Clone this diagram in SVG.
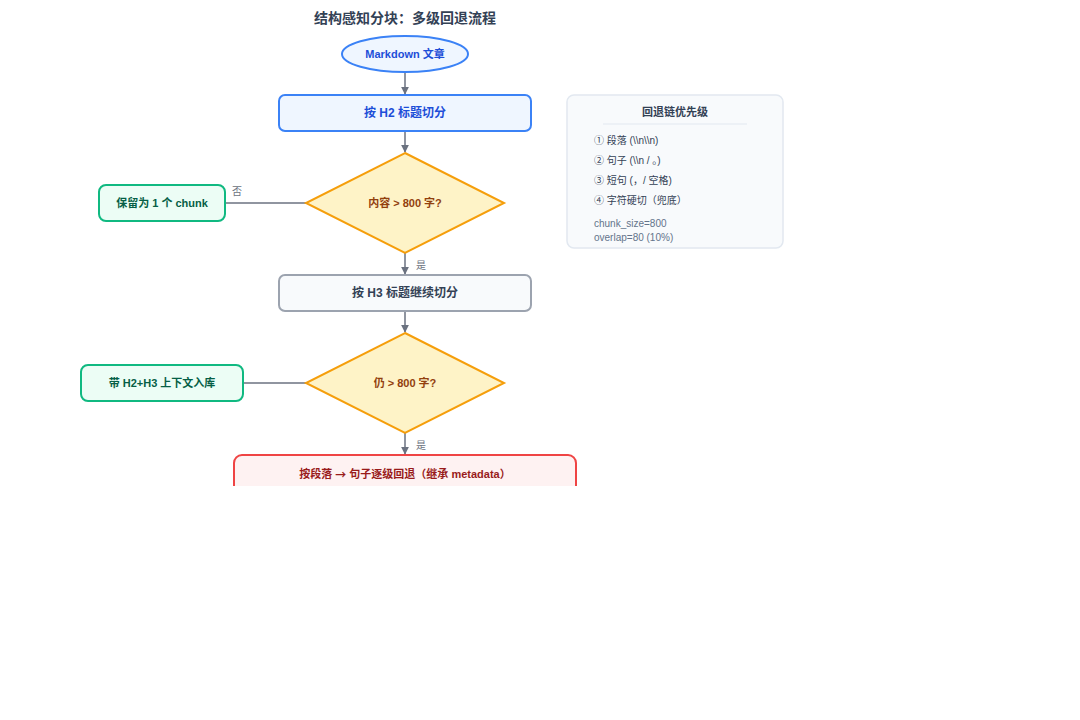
<svg xmlns="http://www.w3.org/2000/svg" width="1080" height="720" viewBox="0 0 1080 720">
<style>
text{font-family:"Liberation Sans","Noto Sans CJK SC",sans-serif;}
.t{font-weight:bold;text-anchor:middle;dominant-baseline:central;}
.edge{stroke:#6b7280;stroke-width:1.5;fill:none;}
.lbl{font-size:10px;fill:#6b7280;}
.blue{fill:#eff6ff;stroke:#3b82f6;stroke-width:2;}
.gray{fill:#f8fafc;stroke:#9ca3af;stroke-width:2;}
.green{fill:#ecfdf5;stroke:#10b981;stroke-width:2;}
.red{fill:#fef2f2;stroke:#ef4444;stroke-width:2;}
.dia{fill:#fef3c7;stroke:#f59e0b;stroke-width:2;}
.leg{font-size:10px;fill:#334155;}
.legs{font-size:10px;fill:#64748b;}
.cjk{font-family:"Noto Sans CJK SC",sans-serif;}
</style>
<defs>
<marker id="arr" viewBox="0 0 10 10" refX="9" refY="5" markerWidth="8" markerHeight="8" markerUnits="userSpaceOnUse" orient="auto">
<path d="M0,0 L10,5 L0,10 z" fill="#6b7280"/>
</marker>
<clipPath id="cut"><rect x="0" y="0" width="1080" height="486"/></clipPath>
</defs>
<rect width="1080" height="720" fill="#ffffff"/>
<text x="405" y="18" class="t" style="font-size:14px;fill:#334155">结构感知分块：多级回退流程</text>

<g id="connectors">
<line x1="405" y1="73" x2="405" y2="94" class="edge" marker-end="url(#arr)"/>
<line x1="405" y1="131" x2="405" y2="152" class="edge" marker-end="url(#arr)"/>
<line x1="306" y1="203" x2="226" y2="203" class="edge"/>
<text x="237" y="195" class="lbl" text-anchor="middle">否</text>
<line x1="405" y1="253" x2="405" y2="274" class="edge" marker-end="url(#arr)"/>
<text x="421" y="269" class="lbl" text-anchor="middle">是</text>
<line x1="405" y1="311" x2="405" y2="332" class="edge" marker-end="url(#arr)"/>
<line x1="306" y1="383" x2="244" y2="383" class="edge"/>
<line x1="405" y1="433" x2="405" y2="454" class="edge" marker-end="url(#arr)"/>
<text x="421" y="449" class="lbl" text-anchor="middle">是</text>
</g>

<g id="start">
<ellipse cx="405" cy="54" rx="63" ry="18" class="blue"/>
<text x="405" y="54" class="t" style="font-size:11px;fill:#1d4ed8">Markdown 文章</text>
</g>
<g id="h2split">
<rect x="279" y="95" width="252" height="36" rx="6" class="blue"/>
<text x="405" y="113" class="t" style="font-size:12px;fill:#1d4ed8">按 H2 标题切分</text>
</g>
<g id="check1">
<polygon points="405,153 504,203 405,253 306,203" class="dia"/>
<text x="405" y="203" class="t" style="font-size:11px;fill:#92400e">内容 &gt; 800 字?</text>
</g>
<g id="keep1">
<rect x="99" y="185" width="126" height="36" rx="7" class="green"/>
<text x="162" y="203" class="t" style="font-size:11px;fill:#065f46">保留为 1 个 chunk</text>
</g>
<g id="h3split">
<rect x="279" y="275" width="252" height="36" rx="6" class="gray"/>
<text x="405" y="293" class="t" style="font-size:12px;fill:#334155">按 H3 标题继续切分</text>
</g>
<g id="check2">
<polygon points="405,333 504,383 405,433 306,383" class="dia"/>
<text x="405" y="383" class="t" style="font-size:11px;fill:#92400e">仍 &gt; 800 字?</text>
</g>
<g id="keep2">
<rect x="81" y="365" width="162" height="36" rx="7" class="green"/>
<text x="162" y="383" class="t" style="font-size:11px;fill:#065f46">带 H2+H3 上下文入库</text>
</g>
<g id="fallback" clip-path="url(#cut)">
<rect x="234" y="455" width="342" height="40" rx="8" class="red"/>
<text x="405" y="474" class="t" style="font-size:11px;fill:#991b1b">按段落 <tspan class="cjk">→</tspan> 句子逐级回退（继承 metadata）</text>
</g>
<g id="legend">
<rect x="567" y="95" width="216" height="153" rx="7" fill="#f8fafc" stroke="#e2e8f0" stroke-width="1.5"/>
<text x="675" y="112" class="t" style="font-size:11px;fill:#334155">回退链优先级</text>
<line x1="603" y1="124" x2="747" y2="124" stroke="#e2e8f0" stroke-width="1"/>
<text x="594" y="144" class="leg">① 段落 (\\n\\n)</text>
<text x="594" y="164" class="leg">② 句子 (\\n / 。)</text>
<text x="594" y="184" class="leg">③ 短句 (，/ 空格)</text>
<text x="594" y="204" class="leg">④ 字符硬切（兜底）</text>
<text x="594" y="227" class="legs">chunk_size=800</text>
<text x="594" y="241" class="legs">overlap=80 (10%)</text>
</g>
</svg>
